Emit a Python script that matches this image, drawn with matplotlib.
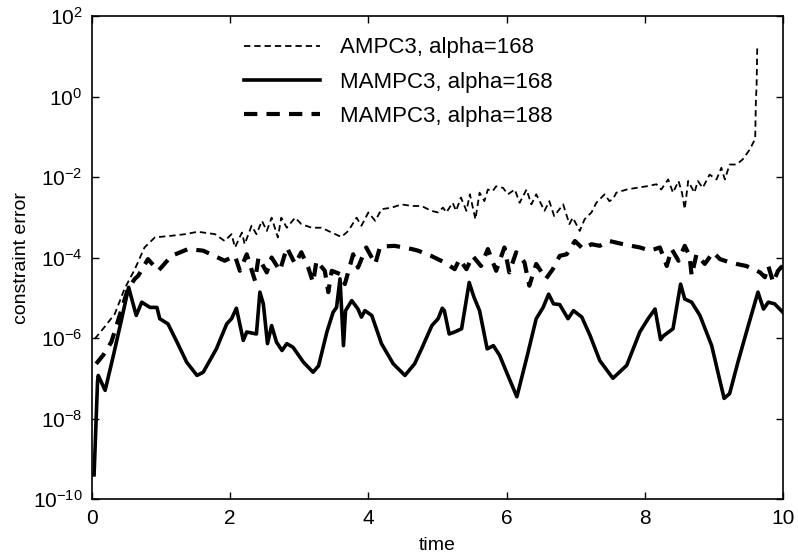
import matplotlib
matplotlib.use("Agg")
import matplotlib.pyplot as plt
import numpy as np
from matplotlib.ticker import FixedLocator, NullLocator, LogFormatterMathtext

plt.rcParams['font.family'] = ['Liberation Sans', 'DejaVu Sans']
plt.rcParams['mathtext.fontset'] = 'custom'
plt.rcParams['mathtext.rm'] = 'Liberation Sans'
plt.rcParams['mathtext.default'] = 'regular'

# ---- data (time, log10 of constraint error) ----
ampc_t = [0.04, 0.18, 0.33, 0.47, 0.62, 0.76, 0.91, 1.15, 1.35, 1.53, 1.78, 1.92, 2.02, 2.07,
          2.17, 2.21, 2.31, 2.38, 2.46, 2.53, 2.60, 2.69, 2.74, 2.82, 2.94, 3.03, 3.18, 3.32,
          3.47, 3.61, 3.71, 3.83, 3.90, 4.00, 4.10, 4.19, 4.34, 4.48, 4.63, 4.77, 4.91, 5.01,
          5.08, 5.13, 5.22, 5.27, 5.34, 5.42, 5.47, 5.55, 5.61, 5.68, 5.73, 5.80, 5.85, 5.95,
          6.02, 6.12, 6.19, 6.29, 6.36, 6.43, 6.55, 6.62, 6.69, 6.82, 6.91, 6.96, 7.06, 7.13,
          7.23, 7.30, 7.42, 7.49, 7.54, 7.59, 7.74, 7.88, 8.03, 8.17, 8.24, 8.34, 8.41, 8.49,
          8.54, 8.58, 8.63, 8.72, 8.77, 8.84, 8.94, 9.04, 9.11, 9.16, 9.23, 9.33, 9.42, 9.52,
          9.60, 9.61, 9.62, 9.63]
ampc_log = [-6.02, -5.73, -5.40, -4.78, -4.29, -3.75, -3.50, -3.46, -3.42, -3.36, -3.42, -3.59,
            -3.42, -3.75, -3.38, -3.67, -3.21, -3.42, -3.09, -3.34, -3.01, -3.50, -3.01, -3.26,
            -3.01, -3.17, -3.26, -3.26, -3.38, -3.49, -3.34, -3.01, -3.21, -2.88, -3.09, -2.80,
            -2.76, -2.68, -2.72, -2.72, -2.84, -2.88, -2.76, -2.88, -2.64, -2.84, -2.51, -2.84,
            -2.43, -3.05, -2.39, -2.60, -2.31, -2.35, -2.23, -2.27, -2.43, -2.31, -2.64, -2.31,
            -2.68, -2.43, -2.84, -2.60, -2.97, -2.68, -3.17, -3.01, -3.34, -3.05, -2.88, -2.64,
            -2.43, -2.60, -2.55, -2.39, -2.31, -2.27, -2.23, -2.18, -2.31, -2.06, -2.39, -2.10,
            -2.39, -2.80, -2.10, -2.39, -2.10, -2.27, -1.94, -2.06, -1.77, -2.06, -1.69, -1.69,
            -1.56, -1.32, -1.05, -0.08, 0.25, 1.28]

m168_t = [0.03, 0.08, 0.09, 0.19, 0.31, 0.43, 0.53, 0.64, 0.72, 0.84, 0.94, 0.98, 1.10, 1.23,
          1.37, 1.52, 1.61, 1.80, 1.95, 2.02, 2.09, 2.19, 2.24, 2.38, 2.43, 2.48, 2.54, 2.60,
          2.67, 2.75, 2.82, 2.91, 3.06, 3.20, 3.28, 3.40, 3.49, 3.54, 3.59, 3.64, 3.67, 3.76,
          3.85, 3.90, 3.95, 4.05, 4.19, 4.36, 4.53, 4.67, 4.77, 4.92, 5.01, 5.07, 5.10, 5.17,
          5.25, 5.35, 5.46, 5.53, 5.61, 5.72, 5.81, 5.90, 6.02, 6.15, 6.29, 6.43, 6.53, 6.61,
          6.68, 6.77, 6.89, 6.97, 7.09, 7.21, 7.35, 7.54, 7.74, 7.93, 8.05, 8.15, 8.23, 8.27,
          8.41, 8.52, 8.58, 8.68, 8.80, 8.97, 9.06, 9.15, 9.23, 9.35, 9.50, 9.64, 9.72, 9.79,
          9.88, 10.0]
m168_log = [-9.40, -7.08, -6.93, -7.30, -6.43, -5.52, -4.74, -5.44, -5.11, -5.24, -5.24, -5.52,
            -5.65, -6.10, -6.60, -6.93, -6.85, -6.27, -5.65, -5.52, -5.26, -6.06, -5.85, -5.90,
            -4.86, -5.15, -6.14, -5.69, -6.10, -6.31, -6.14, -6.23, -6.60, -6.85, -6.69, -5.85,
            -5.36, -5.24, -4.53, -6.19, -5.32, -5.07, -5.28, -5.48, -5.32, -5.44, -6.14, -6.64,
            -6.93, -6.64, -6.27, -5.69, -5.52, -5.26, -5.32, -5.90, -5.85, -5.77, -4.62, -4.99,
            -5.32, -6.27, -6.19, -6.43, -6.93, -7.46, -6.51, -5.52, -5.24, -4.91, -5.15, -5.17,
            -5.52, -5.32, -5.48, -5.94, -6.56, -7.00, -6.68, -5.85, -5.52, -5.28, -6.04, -5.95,
            -5.77, -4.66, -5.03, -5.11, -5.44, -6.19, -6.85, -7.50, -7.38, -6.60, -5.69, -4.86,
            -5.28, -5.11, -5.15, -5.36]

m188_t = [0.06, 0.16, 0.28, 0.40, 0.52, 0.62, 0.67, 0.81, 0.96, 1.15, 1.39, 1.61, 1.87, 1.92,
          2.07, 2.14, 2.24, 2.36, 2.41, 2.53, 2.60, 2.72, 2.82, 2.94, 3.03, 3.13, 3.20, 3.25,
          3.37, 3.42, 3.47, 3.59, 3.66, 3.78, 3.85, 3.97, 4.10, 4.17, 4.38, 4.63, 4.72, 4.91,
          5.10, 5.25, 5.32, 5.42, 5.51, 5.63, 5.73, 5.85, 5.97, 6.04, 6.14, 6.26, 6.33, 6.43,
          6.57, 6.67, 6.77, 6.87, 6.99, 7.11, 7.23, 7.35, 7.49, 7.69, 7.93, 8.08, 8.22, 8.32,
          8.39, 8.49, 8.58, 8.65, 8.68, 8.75, 8.87, 8.99, 9.09, 9.23, 9.33, 9.47, 9.57, 9.67,
          9.74, 9.79, 9.86, 9.93, 10.0]
m188_log = [-6.64, -6.43, -6.10, -5.44, -4.78, -4.53, -4.45, -4.04, -4.33, -3.96, -3.79, -3.83,
            -4.04, -4.08, -3.96, -4.33, -3.92, -4.58, -4.00, -4.37, -4.00, -4.33, -3.75, -4.16,
            -3.87, -4.25, -4.62, -4.08, -4.33, -4.86, -4.33, -4.41, -4.66, -3.92, -4.25, -3.75,
            -4.16, -3.73, -3.71, -3.79, -3.83, -3.96, -4.12, -4.29, -4.04, -4.29, -3.96, -4.21,
            -3.79, -4.33, -3.75, -4.37, -3.87, -4.12, -4.70, -4.16, -4.53, -4.29, -3.96, -3.92,
            -3.59, -3.79, -3.67, -3.71, -3.59, -3.67, -3.75, -3.83, -3.75, -4.21, -3.79, -4.08,
            -3.71, -3.96, -4.45, -3.92, -4.16, -3.87, -4.04, -4.12, -4.16, -4.21, -4.29, -4.37,
            -4.49, -4.21, -4.62, -4.33, -4.20]

labels = ["AMPC3, alpha=168", "MAMPC3, alpha=168", "MAMPC3, alpha=188"]
xticks = [0, 2, 4, 6, 8, 10]
yticks = [1e-10, 1e-8, 1e-6, 1e-4, 1e-2, 1e0, 1e2]

fig = plt.figure(figsize=(7.98, 5.56), dpi=100)
ax = fig.add_axes([0.1153, 0.1025, 0.8657, 0.8687])

ax.plot(ampc_t, 10 ** np.array(ampc_log), color='black', lw=1.3,
        linestyle=(0, (3.5, 2.2)), label=labels[0])
ax.plot(m168_t, 10 ** np.array(m168_log), color='black', lw=2.6,
        linestyle='-', label=labels[1])
ax.plot(m188_t, 10 ** np.array(m188_log), color='black', lw=3.0,
        linestyle=(0, (3.2, 2.2)), label=labels[2])

ax.set_yscale('log')
ax.set_xlim(0, 10)
ax.set_ylim(1e-10, 1e2)
ax.xaxis.set_major_locator(FixedLocator(xticks))
ax.yaxis.set_major_locator(FixedLocator(yticks))
ax.yaxis.set_minor_locator(NullLocator())
ax.yaxis.set_major_formatter(LogFormatterMathtext())
ax.tick_params(direction='in', length=5, width=1, top=True, right=True,
               labelsize=15, pad=7)
for s in ax.spines.values():
    s.set_linewidth(1.2)

ax.set_xlabel('time', fontsize=14, labelpad=7)
ax.set_ylabel('constraint error', fontsize=14, labelpad=2)

leg = ax.legend(loc='upper left', bbox_to_anchor=(0.191, 0.997), frameon=False,
                fontsize=16, handlelength=3.4, handletextpad=0.9, labelspacing=0.6)

fig.savefig('out.png', dpi=100)
